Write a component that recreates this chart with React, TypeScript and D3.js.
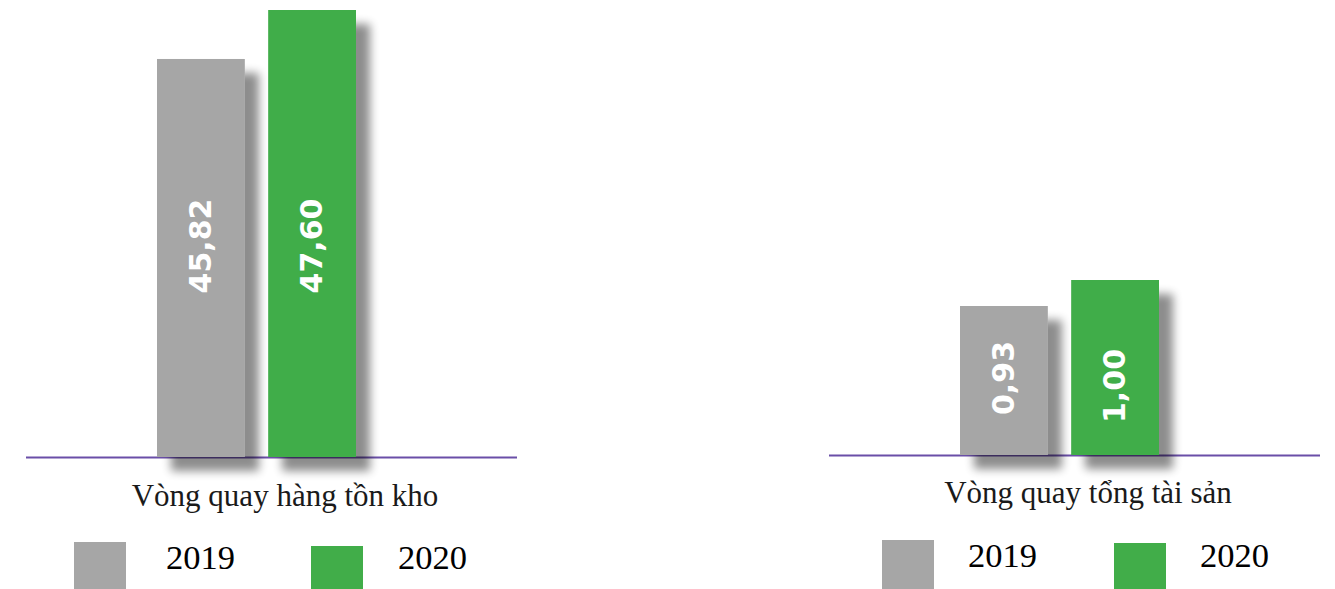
import React from "react";
import * as d3 from "d3";

const years = ["2019", "2020"];
const colors = ["#a6a6a6", "#41ad49"];
const panelTitles = ["Vòng quay hàng tồn kho", "Vòng quay tổng tài sản"];
const inventoryTurnover = [45.82, 47.6];
const assetTurnover = [0.93, 1.0];
const valueLabels = [["45,82", "47,60"], ["0,93", "1,00"]];

const W = 1335;
const H = 589;

type Panel = {
  values: number[];
  title: string;
  labels: string[];
  x0: number;
  x1: number;
  baseY: number;
  domain: [number, number];
  topY: number;
  bandX: [number, number];
  labelY: number[];
  titleY: number;
  titleX: number;
  legendX: number[];
  legendTextX: number[];
  legendY: number[];
  legendTextY: number;
};

const panels: Panel[] = [
  {
    values: inventoryTurnover,
    title: panelTitles[0],
    labels: valueLabels[0],
    x0: 26,
    x1: 517,
    baseY: 457,
    domain: [31.36, 47.6],
    topY: 10,
    bandX: [157, 356],
    labelY: [246, 246],
    titleY: 506,
    titleX: 285,
    legendX: [74, 311],
    legendTextX: [166, 398],
    legendY: [542, 546],
    legendTextY: 569,
  },
  {
    values: assetTurnover,
    title: panelTitles[1],
    labels: valueLabels[1],
    x0: 829,
    x1: 1320,
    baseY: 455,
    domain: [0.5288, 1.0],
    topY: 280,
    bandX: [960, 1159],
    labelY: [378, 386],
    titleY: 503,
    titleX: 1088,
    legendX: [882, 1114],
    legendTextX: [968, 1200],
    legendY: [540, 543],
    legendTextY: 567,
  },
];

function PanelView({ p }: { p: Panel }) {
  const y = d3.scaleLinear().domain(p.domain).range([p.baseY, p.topY]);
  const x = d3
    .scaleBand<string>()
    .domain(years)
    .range(p.bandX)
    .paddingInner(0.21)
    .paddingOuter(0);
  return (
    <g>
      <line x1={p.x0} x2={p.x1} y1={p.baseY + 0.5} y2={p.baseY + 0.5} stroke="#6a4fa8" strokeWidth={2} />
      {years.map((yr, i) => {
        const bx = x(yr)!;
        const bw = x.bandwidth();
        const by = y(p.values[i]);
        return (
          <g key={yr}>
            <rect
              x={bx}
              y={by}
              width={bw}
              height={p.baseY - by}
              fill={colors[i]}
              filter="url(#shadow)"
            />
            <text
              transform={`translate(${bx + bw / 2 + 10},${p.labelY[i]}) rotate(-90)`}
              textAnchor="middle"
              fill="#ffffff"
              fontFamily="'DejaVu Sans', Verdana, sans-serif"
              fontWeight="bold"
              fontSize={30}
            >
              {p.labels[i]}
            </text>
          </g>
        );
      })}
      <text
        x={p.titleX}
        y={p.titleY}
        textAnchor="middle"
        fontFamily="'Liberation Serif', 'Times New Roman', serif"
        fontSize={31}
        fill="#1a1a1a"
      >
        {p.title}
      </text>
      {years.map((yr, i) => (
        <g key={"lg" + yr}>
          <rect x={p.legendX[i]} y={p.legendY[i]} width={52} height={50} fill={colors[i]} />
          <text
            x={p.legendTextX[i]}
            y={p.legendTextY}
            fontFamily="'Liberation Serif', 'Times New Roman', serif"
            fontSize={34.5}
            fill="#000"
          >
            {yr}
          </text>
        </g>
      ))}
    </g>
  );
}

export default function App() {
  return (
    <svg
      width={W}
      height={H}
      style={{ position: "absolute", left: 0, top: 0, display: "block", background: "#fff" }}
    >
      <defs>
        <filter id="shadow" x="-20%" y="-20%" width="160%" height="160%">
          <feGaussianBlur in="SourceAlpha" stdDeviation="5" />
          <feOffset dx="14" dy="14" result="off" />
          <feComponentTransfer>
            <feFuncA type="linear" slope="0.45" />
          </feComponentTransfer>
          <feMerge>
            <feMergeNode />
            <feMergeNode in="SourceGraphic" />
          </feMerge>
        </filter>
      </defs>
      {panels.map((p, i) => (
        <PanelView key={i} p={p} />
      ))}
    </svg>
  );
}
